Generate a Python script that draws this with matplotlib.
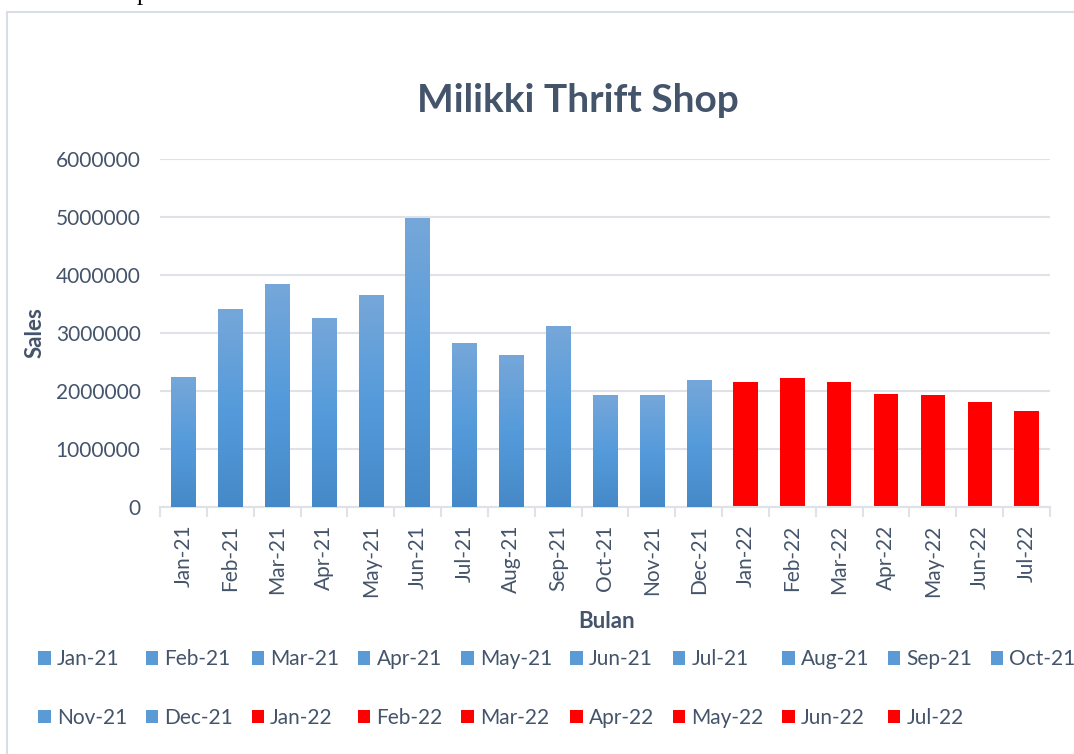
import matplotlib
matplotlib.use("Agg")
import matplotlib.pyplot as plt
from matplotlib.patches import Patch, Rectangle
from matplotlib.colors import LinearSegmentedColormap
import numpy as np

plt.rcParams['font.family'] = ['Lato', 'DejaVu Sans']

months = ['Jan-21', 'Feb-21', 'Mar-21', 'Apr-21', 'May-21', 'Jun-21', 'Jul-21',
          'Aug-21', 'Sep-21', 'Oct-21', 'Nov-21', 'Dec-21', 'Jan-22', 'Feb-22',
          'Mar-22', 'Apr-22', 'May-22', 'Jun-22', 'Jul-22']
sales = [2240000, 3410000, 3840000, 3260000, 3650000, 4980000, 2830000,
         2620000, 3120000, 1930000, 1930000, 2190000, 2150000, 2220000,
         2150000, 1950000, 1930000, 1810000, 1650000]
is_2022 = [m.endswith('22') for m in months]
yticks = [0, 1000000, 2000000, 3000000, 4000000, 5000000, 6000000]

text_col = '#44546A'
grid_col = '#DFE3E8'
blue = '#5B9BD5'
red = '#FF0000'
grad = LinearSegmentedColormap.from_list('g', ['#4689C8', '#559BDB', '#76A7D9'])

fig = plt.figure(figsize=(10.74, 7.54), dpi=100)
fig.patches.append(Rectangle((7 / 1074, -0.5), 2.0, 1.5 - 12 / 754, transform=fig.transFigure,
                             fill=False, edgecolor='#D9DEE5', linewidth=1.5))
fig.text(137 / 1074, 1.0, 'p', family='Liberation Serif', fontsize=18, color='black',
         va='baseline', ha='left')

ax = fig.add_axes([160 / 1074, 1 - 506.7 / 754, 890 / 1074, (506.7 - 159) / 754])
x = np.arange(len(months))
w = 0.52
bars = ax.bar(x, sales, width=w, color=[red if r else blue for r in is_2022], zorder=2)

# gradient fill on the 2021 bars
g = np.linspace(0, 1, 256).reshape(-1, 1)
for b, r in zip(bars, is_2022):
    if r:
        continue
    x0, y0 = b.get_x(), b.get_y()
    ax.imshow(g, cmap=grad, origin='lower', aspect='auto', zorder=3,
              extent=[x0, x0 + b.get_width(), y0, y0 + b.get_height()])

ax.set_xlim(-0.5, len(months) - 0.5)
ax.set_ylim(0, 6000000)
ax.set_yticks(yticks)
ax.set_yticklabels([str(v) for v in yticks])
ax.set_xticks(x)
ax.set_xticklabels(months, rotation=90)
ax.set_xticks(np.arange(len(months) + 1) - 0.5, minor=True)
ax.tick_params(axis='x', which='major', length=0, pad=13, labelsize=15, labelcolor=text_col)
ax.tick_params(axis='x', which='minor', length=7, color=grid_col, width=1.5)
ax.tick_params(axis='y', length=0, pad=14, labelsize=15, labelcolor=text_col)
ax.grid(axis='y', color=grid_col, linewidth=1.5, zorder=0)
for s in ['top', 'right', 'left']:
    ax.spines[s].set_visible(False)
ax.spines['bottom'].set_color(grid_col)
ax.spines['bottom'].set_linewidth(1.5)

fig.text(578 / 1074, 1 - 100 / 754, 'Milikki Thrift Shop', fontsize=28, fontweight='bold',
         color=text_col, ha='center', va='center')
fig.text(35 / 1074, 1 - 333 / 754, 'Sales', fontsize=16, fontweight='bold', color=text_col,
         rotation=90, ha='center', va='center')
fig.text(607 / 1074, 1 - 621 / 754, 'Bulan', fontsize=16, fontweight='bold', color=text_col,
         ha='center', va='center')

# legend in row order: reorder for matplotlib's column filling
handles = [Patch(facecolor=red if r else blue) for r in is_2022]
order = []
for i in range(10):
    order.append(i)
    if i + 10 < len(months):
        order.append(i + 10)
fig.legend([handles[i] for i in order], [months[i] for i in order], ncol=10,
           loc='upper left', bbox_to_anchor=(30 / 1074, 1 - 641 / 754), frameon=False,
           fontsize=15, labelcolor=text_col, handlelength=0.6, handleheight=0.6,
           handletextpad=0.3, columnspacing=0.88, labelspacing=1.85, borderaxespad=0)

fig.savefig('out.png', dpi=100)
